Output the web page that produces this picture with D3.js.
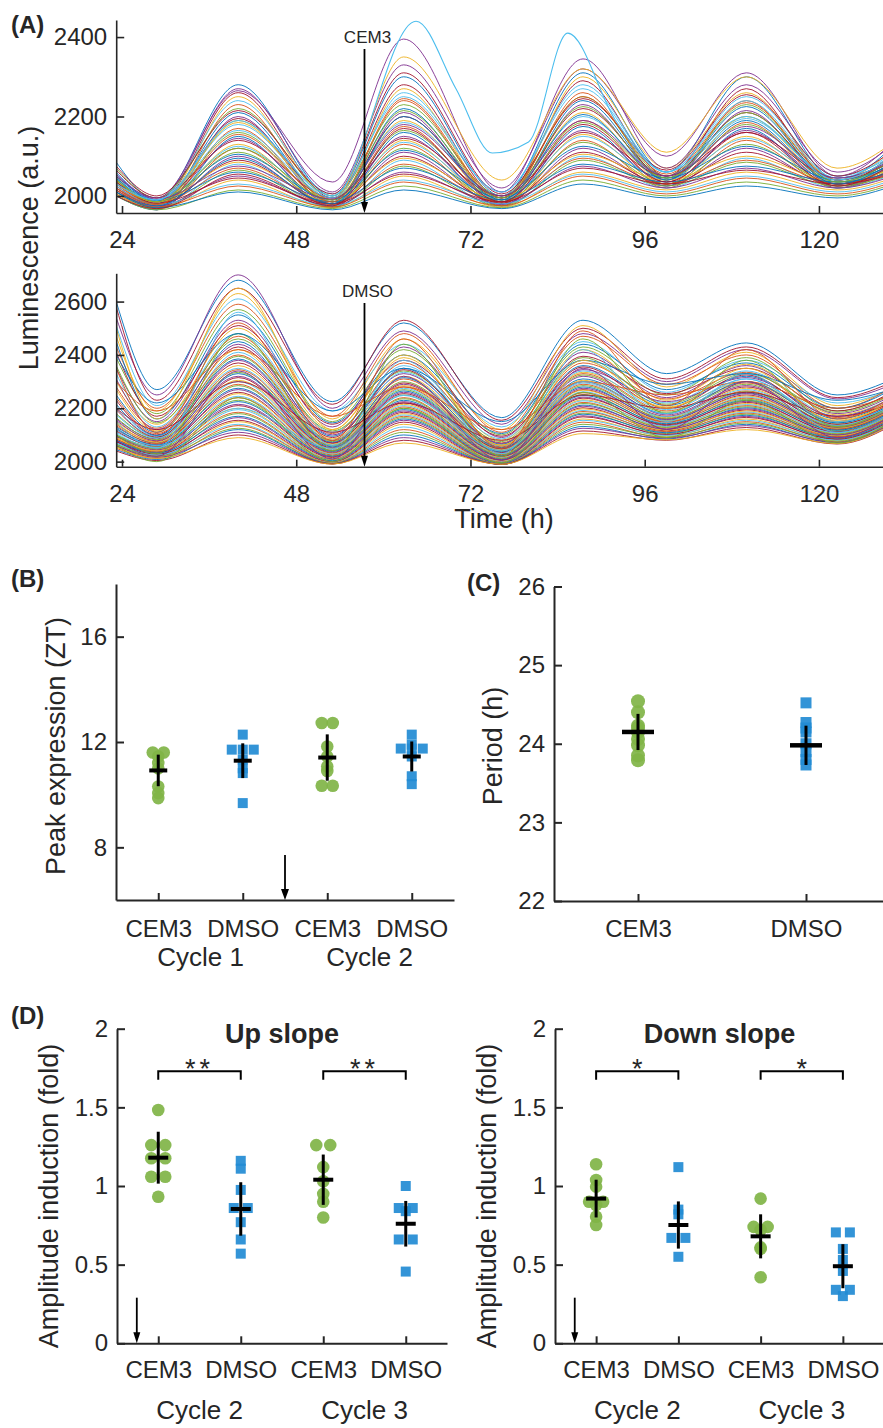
<!DOCTYPE html>
<html><head><meta charset="utf-8">
<script src="https://cdn.jsdelivr.net/npm/d3@7"></script>
<style>
body{margin:0;background:#fff;}
svg{display:block;}
</style></head><body>
<svg id="chart" width="883" height="1428"></svg>
<script>
// ---------------- DATA ----------------
// Panel A: key times (h) at which each trace value was read (start, trough, peak, ...)
const keyTimes = [23.2, 28.8, 40, 53, 62.8, 76.3, 87.5, 99, 110, 122.5, 131];
const cem3Traces = [
[2085,1990,2280,2000,2300,2000,2310,2060,2300,2040,2140],
[2060,1985,2270,2010,2330,2020,2320,2100,2310,2050,2150],
[2040,1980,2260,1995,2280,1995,2290,2050,2270,2030,2120],
[2050,1975,2250,1990,2270,1985,2300,2070,2260,2040,2130],
[2030,1990,2240,2005,2250,2010,2280,2060,2250,2050,2110],
[2020,1970,2230,1980,2240,1990,2260,2040,2240,2020,2100],
[2070,1995,2220,2000,2230,2000,2250,2050,2230,2040,2110],
[2045,1980,2210,1985,2220,1985,2240,2045,2225,2035,2100],
[2010,1965,2200,1975,2210,1980,2230,2040,2215,2030,2090],
[2035,1985,2195,1990,2200,1995,2220,2050,2210,2040,2095],
[2025,1975,2190,1985,2190,1990,2210,2035,2200,2030,2090],
[2055,1990,2180,1995,2185,2000,2200,2050,2195,2045,2100],
[2015,1970,2170,1980,2175,1980,2190,2030,2185,2025,2085],
[2040,1985,2160,1985,2165,1990,2185,2045,2180,2035,2090],
[2000,1965,2150,1970,2160,1975,2175,2025,2170,2020,2080],
[2030,1980,2145,1980,2150,1985,2165,2035,2165,2030,2085],
[2065,1995,2140,1995,2145,2000,2160,2050,2160,2045,2095],
[2020,1975,2130,1975,2140,1980,2155,2030,2150,2025,2075],
[2045,1985,2125,1985,2135,1990,2150,2040,2145,2035,2085],
[2005,1968,2120,1972,2130,1975,2140,2020,2140,2020,2070],
[2035,1980,2110,1980,2120,1985,2135,2030,2130,2030,2080],
[2050,1990,2105,1990,2115,1995,2125,2045,2125,2040,2085],
[2015,1972,2100,1975,2110,1978,2120,2025,2120,2025,2070],
[2025,1978,2090,1980,2100,1982,2110,2030,2110,2030,2070],
[2040,1985,2085,1985,2095,1990,2105,2040,2100,2035,2075],
[2000,1966,2080,1970,2090,1972,2100,2020,2095,2020,2060],
[2030,1980,2070,1978,2080,1985,2095,2030,2090,2030,2065],
[2010,1970,2065,1972,2075,1975,2090,2025,2085,2025,2060],
[2045,1988,2060,1985,2070,1990,2080,2035,2075,2035,2065],
[2020,1975,2050,1975,2060,1980,2075,2020,2070,2020,2055],
[2035,1982,2045,1980,2055,1985,2070,2030,2065,2030,2060],
[2005,1968,2040,1970,2050,1972,2060,2015,2060,2015,2050],
[2025,1978,2030,1975,2040,1980,2055,2010,2050,2010,2045],
[2015,1972,2025,1972,2035,1975,2050,2005,2045,2005,2040],
[2000,1965,2015,1968,2025,1970,2040,2000,2035,2000,2035],
[2010,1970,2010,1965,2015,1968,2030,1995,2025,1995,2030],
[2050,1995,2265,2035,2395,2010,2345,2070,2280,2060,2140],
[2075,2000,2215,2005,2310,2005,2245,2065,2255,2050,2125],
[2030,1985,2185,1990,2350,2040,2320,2110,2300,2070,2145],
[2060,1990,2165,1995,2260,2010,2270,2060,2240,2045,2120],
[2020,1978,2155,1985,2245,1995,2250,2055,2235,2040,2110],
[2040,1985,2120,1990,2215,1995,2225,2045,2210,2035,2100],
[2010,1975,2095,1980,2200,1990,2205,2040,2190,2030,2095],
[2055,1992,2075,1992,2180,2000,2190,2050,2175,2045,2100],
[2000,1968,2055,1975,2170,1985,2180,2035,2160,2025,2090]
];
// one CEM3 trace with its own key times (late double peak)
const cem3OutlierTimes  = [23.2, 28.8, 40, 53, 64.5, 70, 75, 80, 85.4, 92, 99, 110, 122.5, 131];
const cem3OutlierValues = [2030, 1990, 2190, 2000, 2440, 2270, 2108, 2136, 2410, 2190, 2060, 2200, 2040, 2110];

const dmsoTraces = [
[2600,2270,2680,2225,2520,2165,2530,2330,2445,2250,2320],
[2540,2250,2700,2200,2490,2140,2480,2300,2420,2235,2300],
[2580,2230,2650,2215,2530,2155,2500,2310,2430,2240,2310],
[2470,2190,2630,2160,2460,2120,2510,2280,2410,2210,2290],
[2510,2210,2610,2190,2440,2130,2450,2260,2380,2220,2280],
[2430,2200,2590,2170,2480,2110,2470,2290,2400,2200,2295],
[2390,2180,2570,2150,2420,2100,2430,2250,2390,2190,2270],
[2450,2160,2550,2145,2400,2105,2440,2270,2370,2200,2285],
[2350,2150,2530,2130,2430,2090,2410,2240,2360,2180,2260],
[2410,2170,2510,2140,2380,2095,2395,2255,2350,2190,2275],
[2300,2140,2500,2120,2390,2080,2420,2230,2365,2175,2250],
[2330,2130,2480,2110,2360,2085,2380,2220,2340,2170,2255],
[2280,2125,2470,2105,2370,2070,2370,2235,2335,2165,2245],
[2360,2145,2460,2115,2340,2075,2390,2215,2330,2185,2265],
[2250,2110,2450,2095,2350,2065,2360,2210,2320,2160,2240],
[2310,2120,2440,2100,2330,2068,2345,2225,2315,2170,2250],
[2230,2100,2430,2090,2345,2060,2355,2200,2325,2150,2235],
[2270,2115,2420,2085,2320,2062,2335,2205,2300,2155,2240],
[2200,2095,2410,2080,2335,2058,2340,2195,2310,2145,2230],
[2240,2105,2400,2078,2310,2055,2330,2190,2295,2150,2235],
[2180,2090,2395,2075,2300,2050,2325,2185,2290,2140,2225],
[2215,2098,2385,2072,2315,2052,2310,2180,2300,2145,2230],
[2160,2085,2380,2070,2290,2048,2320,2175,2285,2135,2220],
[2195,2092,2370,2068,2295,2046,2300,2170,2280,2140,2225],
[2150,2080,2360,2065,2285,2044,2305,2165,2275,2130,2215],
[2175,2088,2350,2062,2275,2042,2295,2168,2270,2135,2220],
[2140,2075,2345,2060,2280,2040,2290,2160,2265,2128,2212],
[2165,2082,2335,2058,2270,2038,2285,2162,2262,2132,2218],
[2130,2070,2330,2055,2265,2036,2280,2155,2258,2125,2210],
[2155,2078,2320,2052,2260,2034,2275,2158,2255,2128,2214],
[2120,2065,2315,2050,2255,2032,2270,2150,2250,2122,2206],
[2145,2072,2305,2048,2250,2030,2268,2152,2246,2125,2210],
[2110,2060,2300,2045,2248,2028,2262,2145,2242,2118,2202],
[2135,2068,2290,2042,2240,2026,2258,2148,2238,2120,2206],
[2100,2055,2285,2040,2236,2024,2252,2140,2234,2115,2198],
[2125,2062,2275,2038,2230,2022,2248,2142,2230,2118,2202],
[2095,2050,2270,2035,2225,2020,2242,2135,2226,2110,2194],
[2115,2058,2260,2032,2220,2018,2238,2138,2222,2112,2198],
[2090,2045,2255,2030,2215,2016,2232,2130,2218,2106,2190],
[2105,2052,2245,2028,2210,2014,2228,2132,2214,2108,2194],
[2085,2040,2240,2025,2205,2012,2222,2125,2210,2102,2186],
[2100,2048,2230,2022,2200,2010,2218,2128,2206,2104,2190],
[2080,2036,2225,2020,2195,2008,2212,2120,2202,2098,2182],
[2095,2044,2215,2018,2190,2006,2208,2122,2198,2100,2186],
[2075,2032,2210,2015,2185,2004,2202,2115,2194,2094,2178],
[2090,2040,2200,2012,2180,2002,2198,2118,2190,2096,2182],
[2070,2028,2195,2010,2175,2000,2192,2110,2186,2090,2174],
[2085,2036,2185,2008,2170,1998,2188,2112,2182,2092,2178],
[2065,2024,2180,2005,2165,1996,2182,2105,2178,2086,2170],
[2080,2032,2170,2003,2160,1994,2178,2108,2174,2088,2174],
[2060,2020,2165,2000,2155,1992,2172,2100,2170,2082,2166],
[2075,2028,2155,1998,2148,1990,2168,2102,2166,2084,2170],
[2055,2016,2150,1996,2140,1990,2160,2095,2160,2078,2162],
[2070,2024,2140,1995,2130,1990,2155,2098,2155,2080,2166],
[2050,2012,2135,1994,2120,1990,2148,2090,2150,2074,2158],
[2065,2020,2125,1993,2110,1990,2140,2092,2145,2076,2162],
[2045,2008,2120,1992,2100,1990,2132,2085,2140,2070,2154],
[2060,2016,2110,1992,2090,1990,2125,2088,2135,2072,2158],
[2040,2004,2100,1991,2080,1990,2115,2080,2128,2066,2150],
[2055,2012,2090,1991,2070,1990,2105,2082,2120,2068,2154],
[2150,2050,2560,2060,2380,2030,2420,2150,2330,2110,2200],
[2300,2190,2420,2170,2280,2120,2300,2250,2300,2200,2260],
[2100,2030,2480,2040,2440,2020,2460,2180,2380,2130,2230],
[2400,2220,2480,2190,2350,2150,2380,2290,2330,2230,2280],
[2080,2020,2340,2010,2320,2005,2350,2120,2300,2090,2190],
[2200,2120,2300,2110,2220,2080,2250,2200,2260,2170,2230],
[2500,2160,2650,2120,2400,2060,2380,2200,2350,2150,2250],
[2120,2060,2200,2050,2250,2040,2300,2180,2310,2150,2220],
[2350,2110,2520,2080,2460,2050,2490,2210,2420,2160,2260],
[2060,2000,2240,2000,2200,1995,2260,2090,2230,2070,2170]
];
const timeTicks = [24, 48, 72, 96, 120];
const cem3YTicks = [2000, 2200, 2400];
const dmsoYTicks = [2000, 2200, 2400, 2600];
const treatmentTime = 57.4;
const treatmentLabels = ["CEM3", "DMSO"];

// Panel B: peak expression (ZT)
const groupNames = ["CEM3", "DMSO", "CEM3", "DMSO"];
const peakCycleLabels = ["Cycle 1", "Cycle 2"];
const peakTicks = [8, 12, 16];
const peakValues = [
  [11.6, 11.6, 11.45, 11.2, 11.0, 10.31, 10.06, 9.87],
  [12.28, 11.71, 11.71, 11.71, 11.33, 11.0, 10.82, 9.68],
  [12.72, 12.72, 11.83, 11.45, 11.07, 10.9, 10.34, 10.34],
  [12.28, 11.9, 11.75, 11.75, 11.75, 11.45, 10.7, 10.4]
];
const peakMeans = [10.92, 11.29, 11.41, 11.45];
const peakSD = [0.6, 0.66, 0.88, 0.57];
const peakArrowAt = 2.5;

// Panel C: period (h)
const periodGroups = ["CEM3", "DMSO"];
const periodTicks = [22, 23, 24, 25, 26];
const periodValues = [
  [24.54, 24.40, 24.23, 24.2, 24.15, 24.06, 23.98, 23.85, 23.79],
  [24.52, 24.27, 24.2, 24.15, 24.0, 23.9, 23.8, 23.73]
];
const periodMeans = [24.15, 23.98];
const periodSD = [0.23, 0.25];

// Panel D: amplitude induction (fold)
const ampCycleLabels = ["Cycle 2", "Cycle 3"];
const ampTicks = [0, 0.5, 1, 1.5, 2];
const upValues = [
  [1.483, 1.26, 1.26, 1.176, 1.176, 1.059, 1.059, 0.932],
  [1.16, 1.11, 0.975, 0.86, 0.86, 0.77, 0.66, 0.57],
  [1.26, 1.26, 1.12, 1.03, 0.95, 0.9, 0.8],
  [1.0, 0.86, 0.86, 0.84, 0.66, 0.66, 0.456]
];
const upMeans = [1.18, 0.854, 1.04, 0.76];
const upSD = [0.165, 0.17, 0.16, 0.145];
const downValues = [
  [1.138, 1.038, 0.996, 0.9, 0.9, 0.879, 0.805, 0.752],
  [1.12, 0.85, 0.82, 0.67, 0.67, 0.55],
  [0.92, 0.74, 0.74, 0.72, 0.61, 0.6, 0.42],
  [0.705, 0.705, 0.6, 0.53, 0.46, 0.34, 0.34, 0.3]
];
const downMeans = [0.92, 0.752, 0.68, 0.49];
const downSD = [0.12, 0.15, 0.14, 0.14];
const upSig = [[1, 2, "**"], [3, 4, "**"]];
const downSig = [[1, 2, "*"], [3, 4, "*"]];
const sigLevel = 1.73, sigDrop = 1.675;
const ampArrowAt = 0.74, ampArrowTop = 0.29;

// ---------------- DRAWING ----------------
const FONT = '"Liberation Sans", Arial, Helvetica, sans-serif';
const INK = '#262626';
const palette = ['#0072BD','#D95319','#EDB120','#7E2F8E','#77AC30','#4DBEEE','#A2142F'];
const GREEN = '#80b446', BLUE = '#228bd4';
const svg = d3.select('#chart').attr('font-family', FONT);

function text(g, x, y, str, size, opts = {}) {
  const t = g.append('text').attr('x', x).attr('y', y).text(str)
    .attr('font-size', size).attr('fill', INK)
    .attr('text-anchor', opts.anchor || 'middle');
  if (opts.bold) t.attr('font-weight', 'bold');
  if (opts.rotate) t.attr('x', null).attr('y', null).attr('transform', `translate(${x},${y}) rotate(-90)`);
  if (opts.ls) t.attr('letter-spacing', opts.ls);
  return t;
}
function styleAxis(ag, sw) {
  ag.attr('font-family', FONT);
  ag.select('.domain').attr('stroke', INK).attr('stroke-width', sw);
  ag.selectAll('.tick line').attr('stroke', INK).attr('stroke-width', sw);
  ag.selectAll('.tick text').attr('fill', INK).attr('font-size', 24);
}
function leftAxis(g, y, ticks, x0, sw, fmt) {
  const a = d3.axisLeft(y).tickValues(ticks).tickSize(-8).tickSizeOuter(0).tickPadding(9)
    .tickFormat(fmt || (d => String(d)));
  const ag = g.append('g').attr('transform', `translate(${x0},0)`).call(a);
  styleAxis(ag, sw);
  return ag;
}
function bottomAxis(g, x, ticks, y0, sw, pad, fmt) {
  const a = d3.axisBottom(x).tickValues(ticks).tickSize(-7).tickSizeOuter(0).tickPadding(pad)
    .tickFormat(fmt || (d => String(d)));
  const ag = g.append('g').attr('transform', `translate(0,${y0})`).call(a);
  styleAxis(ag, sw);
  return ag;
}
function arrow(g, x, y1, y2, headW, headL, sw) {
  g.append('line').attr('x1', x).attr('x2', x).attr('y1', y1).attr('y2', y2 - headL + 1)
    .attr('stroke', '#000').attr('stroke-width', sw);
  g.append('path').attr('d', `M${x - headW / 2},${y2 - headL}L${x + headW / 2},${y2 - headL}L${x},${y2}Z`)
    .attr('fill', '#000');
}

// ---- Panel A ----
const xA = d3.scaleLinear().domain([23.2, 131]).range([116.2, 898.8]);
const yTop = d3.scaleLinear().domain([1957, 2443]).range([213, 20]);
const yBot = d3.scaleLinear().domain([1981, 2706]).range([466.7, 273.3]);

function tracePanel(id, y, traces, extra, yTicks, labelTxt, labelY) {
  const g = svg.append('g');
  const [yb, yt] = y.range();
  g.append('clipPath').attr('id', id).append('rect')
    .attr('x', xA.range()[0]).attr('y', yt).attr('width', 883 - xA.range()[0]).attr('height', yb - yt);
  const line = d3.line().x(d => xA(d[0])).y(d => y(d[1])).curve(d3.curveMonotoneX);
  const lg = g.append('g').attr('clip-path', `url(#${id})`);
  traces.forEach((tr, i) => {
    lg.append('path').attr('d', line(tr.map((v, k) => [keyTimes[k], v])))
      .attr('fill', 'none').attr('stroke', palette[(i * 3) % 7]).attr('stroke-width', 1).attr('stroke-opacity', 0.9);
  });
  if (extra) {
    lg.append('path').attr('d', line(extra[0].map((t, k) => [t, extra[1][k]])))
      .attr('fill', 'none').attr('stroke', palette[5]).attr('stroke-width', 1.1);
  }
  leftAxis(g, y, yTicks, xA.range()[0], 1.6, d3.format('d'));
  bottomAxis(g, xA, timeTicks, yb, 1.6, 18, d3.format('d'));
  text(g, xA(treatmentTime) + 3, labelY, labelTxt, 17);
  arrow(g, xA(treatmentTime), labelY + 6, yb, 7, 11, 1.8);
  return g;
}
tracePanel('clipTop', yTop, cem3Traces, [cem3OutlierTimes, cem3OutlierValues], cem3YTicks, treatmentLabels[0], 43);
tracePanel('clipBot', yBot, dmsoTraces, null, dmsoYTicks, treatmentLabels[1], 297);
text(svg, 38, 248, 'Luminescence (a.u.)', 27, { rotate: true });
text(svg, 504, 528, 'Time (h)', 27);
text(svg, 11, 33, '(A)', 24, { anchor: 'start', bold: true });

// ---- dot panels helper ----
function dots(g, x, y, values, means, sds, names, st) {
  values.forEach((vals, i) => {
    const cx = x(i + 1);
    const counts = d3.rollup(vals, v => v.length, d => d);
    const seen = new Map();
    const isC = names[i] === 'CEM3';
    vals.forEach(v => {
      const n = counts.get(v), k = seen.get(v) || 0; seen.set(v, k + 1);
      const px = cx + (k - (n - 1) / 2) * st.spread;
      if (isC) g.append('circle').attr('cx', px).attr('cy', y(v)).attr('r', st.r)
        .attr('fill', GREEN).attr('fill-opacity', 0.92);
      else g.append('rect').attr('x', px - st.sq / 2).attr('y', y(v) - st.sq / 2)
        .attr('width', st.sq).attr('height', st.sq).attr('fill', BLUE).attr('fill-opacity', 0.92);
    });
    g.append('line').attr('x1', cx).attr('x2', cx)
      .attr('y1', y(means[i] - sds[i])).attr('y2', y(means[i] + sds[i]))
      .attr('stroke', '#000').attr('stroke-width', 3);
    g.append('line').attr('x1', cx - st.mw / 2).attr('x2', cx + st.mw / 2)
      .attr('y1', y(means[i])).attr('y2', y(means[i]))
      .attr('stroke', '#000').attr('stroke-width', st.mt);
  });
}

// ---- Panel B ----
{
  const g = svg.append('g');
  const x = d3.scaleLinear().domain([0.5, 4.5]).range([116, 454]);
  const y = d3.scaleLinear().domain([6, 18]).range([900, 584]);
  dots(g, x, y, peakValues, peakMeans, peakSD, groupNames, { r: 6.3, sq: 10, spread: 11, mw: 18, mt: 4 });
  leftAxis(g, y, peakTicks, 116, 2);
  bottomAxis(g, x, [1, 2, 3, 4], 900, 2, 20, d => groupNames[d - 1]);
  arrow(g, x(peakArrowAt), 855, 900, 8, 11, 1.8);
  peakCycleLabels.forEach((c, i) => text(g, (x(2 * i + 1) + x(2 * i + 2)) / 2, 966, c, 26));
  text(g, 65, 746, 'Peak expression (ZT)', 27, { rotate: true });
  text(g, 11, 587, '(B)', 24, { anchor: 'start', bold: true });
}

// ---- Panel C ----
{
  const g = svg.append('g');
  const x = d3.scaleLinear().domain([0.5, 2.5]).range([554, 890]);
  const y = d3.scaleLinear().domain([22, 26]).range([901, 586.5]);
  dots(g, x, y, periodValues, periodMeans, periodSD, periodGroups, { r: 7, sq: 11, spread: 12, mw: 32, mt: 4.5 });
  leftAxis(g, y, periodTicks, 554, 2);
  bottomAxis(g, x, [1, 2], 901, 2, 19, d => periodGroups[d - 1]);
  text(g, 502, 746, 'Period (h)', 27, { rotate: true });
  text(g, 467, 591, '(C)', 24, { anchor: 'start', bold: true });
}

// ---- Panel D ----
function ampPanel(x0, x1, values, means, sds, sig, title, labelX) {
  const g = svg.append('g');
  const x = d3.scaleLinear().domain([0.5, 4.5]).range([x0, x1]);
  const y = d3.scaleLinear().domain([0, 2]).range([1343.3, 1028.7]);
  dots(g, x, y, values, means, sds, groupNames, { r: 6.3, sq: 10, spread: 14, mw: 20, mt: 4 });
  leftAxis(g, y, ampTicks, x0, 2);
  bottomAxis(g, x, [1, 2, 3, 4], 1343.3, 2, 18, d => groupNames[d - 1]);
  ampCycleLabels.forEach((c, i) => text(g, (x(2 * i + 1) + x(2 * i + 2)) / 2, 1419, c, 26));
  text(g, (x0 + x1) / 2, 1043, title, 27, { bold: true });
  sig.forEach(([a, b, s]) => {
    g.append('path').attr('d', `M${x(a)},${y(sigDrop)}V${y(sigLevel)}H${x(b)}V${y(sigDrop)}`)
      .attr('fill', 'none').attr('stroke', '#000').attr('stroke-width', 2);
    text(g, (x(a) + x(b)) / 2, y(sigLevel) + 7, s, 27, { ls: s.length > 1 ? 4 : 0 });
  });
  arrow(g, x(ampArrowAt), y(ampArrowTop), 1343.3, 7, 11, 1.8);
  text(g, labelX, 1196, 'Amplitude induction (fold)', 27, { rotate: true });
  return g;
}
ampPanel(117, 447, upValues, upMeans, upSD, upSig, 'Up slope', 58);
ampPanel(555, 884, downValues, downMeans, downSD, downSig, 'Down slope', 496);
text(svg, 11, 1024, '(D)', 24, { anchor: 'start', bold: true });
</script>
</body></html>
